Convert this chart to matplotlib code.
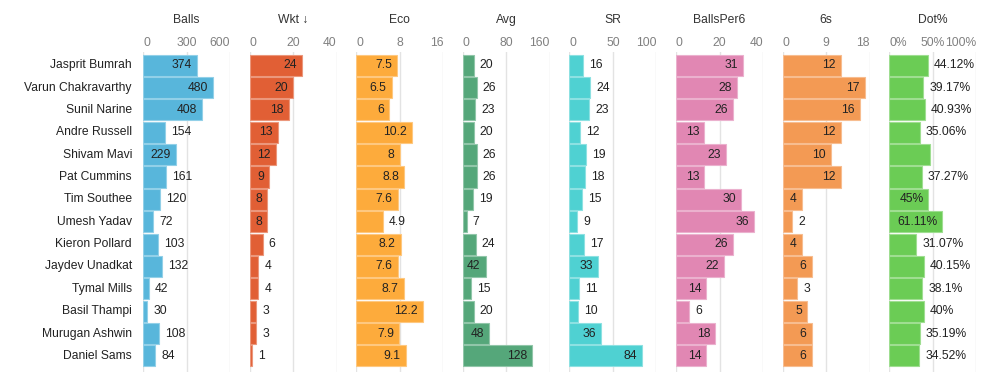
import matplotlib
matplotlib.use('Agg')
import matplotlib.pyplot as plt
import matplotlib.colors as mcolors

plt.rcParams['font.family'] = ['Liberation Sans', 'DejaVu Sans']

players = ['Jasprit Bumrah', 'Varun Chakravarthy', 'Sunil Narine', 'Andre Russell',
           'Shivam Mavi', 'Pat Cummins', 'Tim Southee', 'Umesh Yadav',
           'Kieron Pollard', 'Jaydev Unadkat', 'Tymal Mills', 'Basil Thampi',
           'Murugan Ashwin', 'Daniel Sams']

balls = [374, 480, 408, 154, 229, 161, 120, 72, 103, 132, 42, 30, 108, 84]
wkt = [24, 20, 18, 13, 12, 9, 8, 8, 6, 4, 4, 3, 3, 1]
eco = [7.5, 6.5, 6, 10.2, 8, 8.8, 7.6, 4.9, 8.2, 7.6, 8.7, 12.2, 7.9, 9.1]
avg = [20, 26, 23, 20, 26, 26, 19, 7, 24, 42, 15, 20, 48, 128]
sr = [16, 24, 23, 12, 19, 18, 15, 9, 17, 33, 11, 10, 36, 84]
balls_per6 = [31, 28, 26, 13, 23, 13, 30, 36, 26, 22, 14, 6, 18, 14]
sixes = [12, 17, 16, 12, 10, 12, 4, 2, 4, 6, 3, 5, 6, 6]
dot_pct = [44.12, 39.17, 40.93, 35.06, 46.67, 37.27, 45, 61.11, 31.07, 40.15,
           38.1, 40, 35.19, 34.52]
dot_labels = ['44.12%', '39.17%', '40.93%', '35.06%', '', '37.27%', '45%', '61.11%',
              '31.07%', '40.15%', '38.1%', '40%', '35.19%', '34.52%']

# (title, values, axis max, tick labels, colour)
columns = [
    ('Balls', balls, 600, ['0', '300', '600'], '#58b6db'),
    ('Wkt \u2193', wkt, 40, ['0', '20', '40'], '#e15f35'),
    ('Eco', eco, 16, ['0', '8', '16'], '#fdab3c'),
    ('Avg', avg, 160, ['0', '80', '160'], '#55a77a'),
    ('SR', sr, 100, ['0', '50', '100'], '#4fd1d2'),
    ('BallsPer6', balls_per6, 40, ['0', '20', '40'], '#e187b3'),
    ('6s', sixes, 18, ['0', '9', '18'], '#f39a54'),
    ('Dot%', dot_pct, 100, ['0%', '50%', '100%'], '#6bcc55'),
]

W, H = 1000, 377
fig = plt.figure(figsize=(W / 100, H / 100), dpi=100)

n = len(players)
top_px, bot_px = 52, 372
panel_left, panel_w, pitch = 143, 87, 106.6
fs = 8.7
pad = 5


def lighten(c, amt=0.35):
    r, g, b = mcolors.to_rgb(c)
    return (r + (1 - r) * amt, g + (1 - g) * amt, b + (1 - b) * amt)


def label_width(s):
    # rough pixel width of a value label
    return sum(13 if c == '%' else 4 if c == '.' else 6.7 for c in s)


for i, (title, vals, vmax, ticks, color) in enumerate(columns):
    x0 = panel_left + i * pitch
    ax = fig.add_axes([x0 / W, 1 - bot_px / H, panel_w / W, (bot_px - top_px) / H])
    ax.set_xlim(0, vmax)
    ax.set_ylim(n - 0.5 + 0.22, -0.59)
    for s in ax.spines.values():
        s.set_visible(False)
    ax.set_xticks([])
    ax.set_yticks([])
    ax.patch.set_alpha(0)

    for t in (0, vmax / 2, vmax):
        ax.axvline(t, color='#e3e3e3', linewidth=1, zorder=0)

    ax.barh(range(n), vals, height=0.94, color=color,
            edgecolor=lighten(color), linewidth=0.8, zorder=2)

    # value labels: inside the bar when they fit, otherwise just after it
    labels = dot_labels if title == 'Dot%' else ['{:g}'.format(v) for v in vals]
    for j, (v, lab) in enumerate(zip(vals, labels)):
        if not lab:
            continue
        bar_px = v / vmax * panel_w
        if bar_px - label_width(lab) >= 9.3:
            ax.annotate(lab, (v, j), xytext=(-pad, 0), textcoords='offset pixels',
                        ha='right', va='center', fontsize=fs, color='#222222', zorder=3)
        else:
            ax.annotate(lab, (v, j), xytext=(pad + 1, 0), textcoords='offset pixels',
                        ha='left', va='center', fontsize=fs, color='#222222', zorder=3)

    # header
    fig.text((x0 + panel_w / 2) / W, 1 - 20 / H, title, ha='center', va='center',
             fontsize=fs, color='#333333')
    for k, (tv, tl) in enumerate(zip((0, vmax / 2, vmax), ticks)):
        ha = ['left', 'center', 'right'][k]
        xp = x0 + tv / vmax * panel_w
        fig.text(xp / W, 1 - 42.5 / H, tl, ha=ha, va='center', fontsize=fs, color='#808080')

    if i == 0:
        for j, name in enumerate(players):
            ax.annotate(name, (0, j), xytext=(-11, 0), textcoords='offset pixels',
                        ha='right', va='center', fontsize=fs, color='#222222',
                        annotation_clip=False)

fig.savefig('out.png', dpi=100, facecolor='white')
